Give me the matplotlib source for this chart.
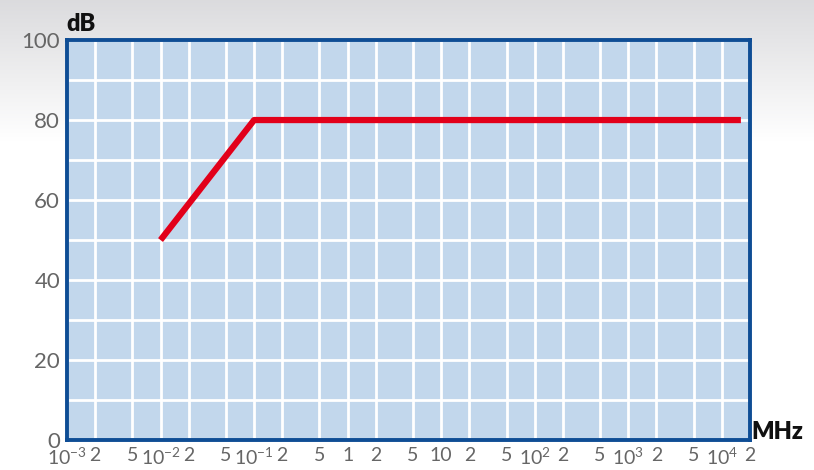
import numpy as np
import matplotlib
matplotlib.use("Agg")
import matplotlib.pyplot as plt

# data
freq_mhz = [0.01, 0.1, 1.6e4]
atten_db = [50, 80, 80]

decades = [-3, -2, -1, 0, 1, 2, 3, 4]
x_ticks = []
x_labels = []
for k in decades:
    x_ticks += [10.0**k, 2 * 10.0**k]
    if k == 0:
        lab = "1"
    elif k == 1:
        lab = "10"
    else:
        lab = r"$10^{%d}$" % k
    x_labels += [lab, "2"]
    if k < 4:
        x_ticks.append(5 * 10.0**k)
        x_labels.append("5")

y_major = [0, 20, 40, 60, 80, 100]
y_minor = [10, 30, 50, 70, 90]

plt.rcParams['font.family'] = ['Lato', 'DejaVu Sans']
plt.rcParams['mathtext.fontset'] = 'custom'
plt.rcParams['mathtext.rm'] = 'Lato'
plt.rcParams['mathtext.it'] = 'Lato'

fig = plt.figure(figsize=(8.14, 4.70), dpi=100)

# background gradient
bg = fig.add_axes([0, 0, 1, 1], zorder=-10)
grad = np.linspace(0, 1, 470)
vals = np.clip(grad / 0.3, 0, 1)
top = np.array([0.86, 0.86, 0.87])
bot = np.array([1.0, 1.0, 1.0])
img = top[None, :] * (1 - vals[:, None]) + bot[None, :] * vals[:, None]
img = np.repeat(img[:, None, :], 10, axis=1)
bg.imshow(img, aspect='auto', extent=[0, 1, 0, 1])
bg.axis('off')

ax = fig.add_axes([0.0823, 0.0638, 0.839, 0.851])
ax.set_facecolor('#C2D7EC')
ax.set_xscale('log')
ax.set_xlim(1e-3, 2e4)
ax.set_ylim(0, 100)

ax.set_xticks(x_ticks)
ax.set_xticklabels(x_labels)
ax.xaxis.set_minor_locator(matplotlib.ticker.NullLocator())
ax.set_yticks(y_major)
ax.set_yticks(y_minor, minor=True)

ax.grid(True, which='both', color='white', linewidth=2.0)
ax.set_axisbelow(True)
ax.tick_params(which='both', length=0)
ax.tick_params(axis='x', labelsize=14, labelcolor='#666666', pad=5)
ax.tick_params(axis='y', labelsize=16, labelcolor='#666666', pad=5)

for s in ax.spines.values():
    s.set_color('#0E4D95')
    s.set_linewidth(2.8)

ax.plot(freq_mhz, atten_db, color='#E2001A', linewidth=4.5, solid_capstyle='butt', zorder=3)

fig.text(66 / 814, 1 - 24 / 470, "dB", fontsize=17, fontweight='heavy', color='#111111',
         ha='left', va='center')
fig.text(751 / 814, 1 - 432 / 470, "MHz", fontsize=17, fontweight='heavy', color='#111111',
         ha='left', va='center')

fig.savefig("out.png", dpi=100)
